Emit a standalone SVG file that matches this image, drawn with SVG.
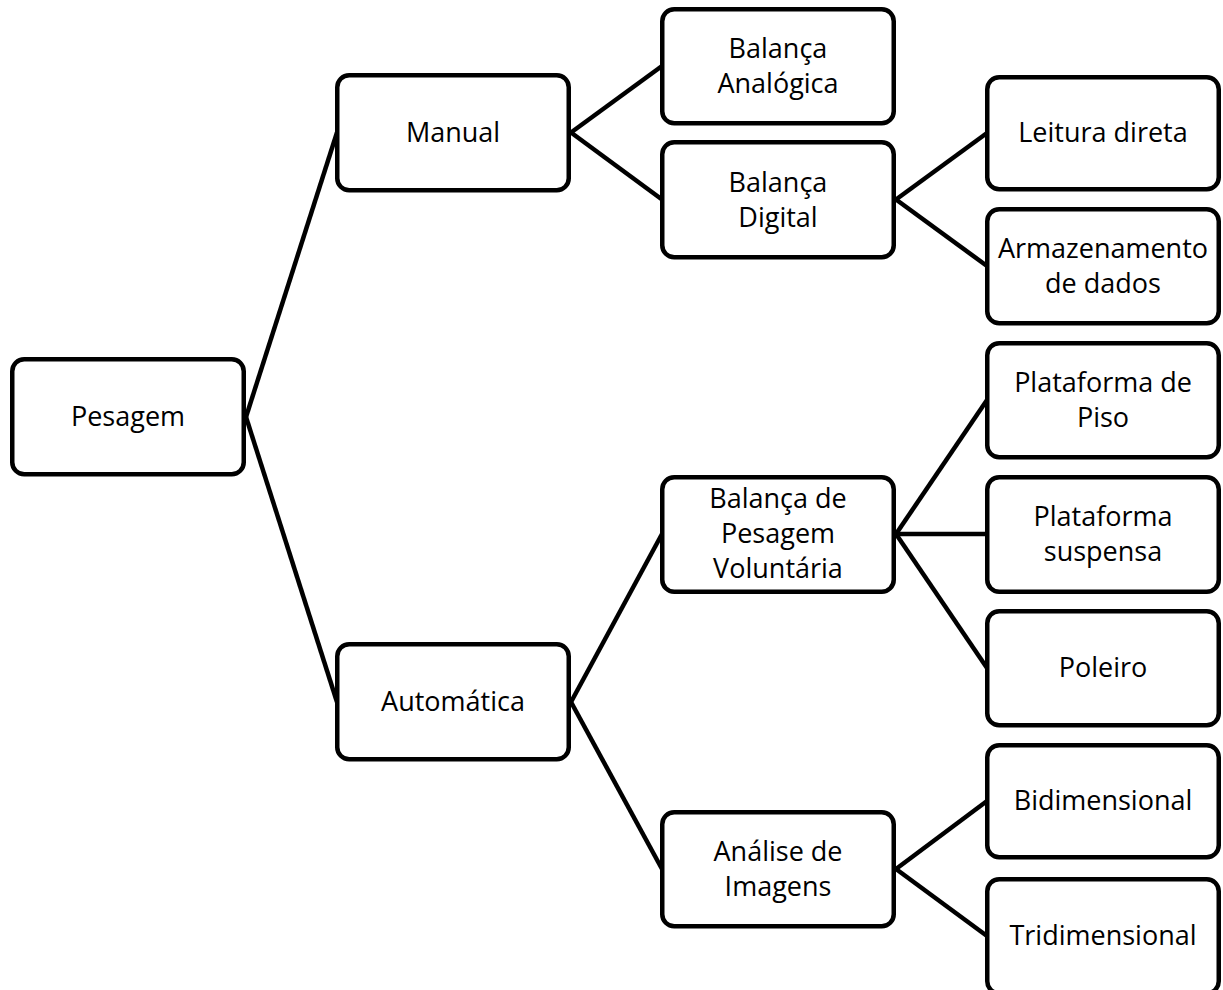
<svg xmlns="http://www.w3.org/2000/svg" width="1223" height="990" viewBox="0 0 1223 990">
<style>
.box{fill:#fff;stroke:#000;stroke-width:4.5}
.lbl{font-family:"Open Sans","Noto Sans",sans-serif;font-size:27px;fill:#000;text-anchor:middle}
.con{stroke:#000;stroke-width:4.5;fill:none;stroke-linecap:butt}
</style>
<rect width="1223" height="990" fill="#fff"/>
<g id="connectors">
<line class="con" x1="246" y1="417" x2="337" y2="132.5"/>
<line class="con" x1="246" y1="417" x2="337" y2="702"/>
<line class="con" x1="571" y1="132.5" x2="662" y2="66"/>
<line class="con" x1="571" y1="132.5" x2="662" y2="199.5"/>
<line class="con" x1="896" y1="199.5" x2="987" y2="133"/>
<line class="con" x1="896" y1="199.5" x2="987" y2="266"/>
<line class="con" x1="571" y1="702" x2="662" y2="534"/>
<line class="con" x1="571" y1="702" x2="662" y2="869"/>
<line class="con" x1="896" y1="534" x2="987" y2="400"/>
<line class="con" x1="896" y1="534" x2="987" y2="534"/>
<line class="con" x1="896" y1="534" x2="987" y2="668"/>
<line class="con" x1="896" y1="869" x2="987" y2="801"/>
<line class="con" x1="896" y1="869" x2="987" y2="936"/>
</g>
<g id="pesagem"><rect class="box" x="12.25" y="359.25" width="231.5" height="115" rx="12"/><text class="lbl" x="128" y="426">Pesagem</text></g>
<g id="manual"><rect class="box" x="337.25" y="75.25" width="231.5" height="115" rx="12"/><text class="lbl" x="453" y="141.5">Manual</text></g>
<g id="automatica"><rect class="box" x="337.25" y="644.25" width="231.5" height="115" rx="12"/><text class="lbl" x="453" y="711">Automática</text></g>
<g id="balanca-analogica"><rect class="box" x="662.25" y="9.25" width="231.5" height="114" rx="12"/><text class="lbl" x="778" y="58">Balança</text><text class="lbl" x="778" y="93">Analógica</text></g>
<g id="balanca-digital"><rect class="box" x="662.25" y="142.25" width="231.5" height="115" rx="12"/><text class="lbl" x="778" y="191.5">Balança</text><text class="lbl" x="778" y="226.5">Digital</text></g>
<g id="balanca-voluntaria"><rect class="box" x="662.25" y="477.25" width="231.5" height="114.5" rx="12"/><text class="lbl" x="778" y="508">Balança de</text><text class="lbl" x="778" y="543">Pesagem</text><text class="lbl" x="778" y="578">Voluntária</text></g>
<g id="analise-imagens"><rect class="box" x="662.25" y="812.25" width="231.5" height="114" rx="12"/><text class="lbl" x="778" y="861">Análise de</text><text class="lbl" x="778" y="896">Imagens</text></g>
<g id="leitura-direta"><rect class="box" x="987.25" y="77.25" width="231.5" height="112" rx="12"/><text class="lbl" x="1103" y="142">Leitura direta</text></g>
<g id="armazenamento"><rect class="box" x="987.25" y="209.25" width="231.5" height="114" rx="12"/><text class="lbl" x="1103" y="258">Armazenamento</text><text class="lbl" x="1103" y="293">de dados</text></g>
<g id="plataforma-piso"><rect class="box" x="987.25" y="343.25" width="231.5" height="114" rx="12"/><text class="lbl" x="1103" y="392">Plataforma de</text><text class="lbl" x="1103" y="427">Piso</text></g>
<g id="plataforma-suspensa"><rect class="box" x="987.25" y="477.25" width="231.5" height="114.5" rx="12"/><text class="lbl" x="1103" y="526">Plataforma</text><text class="lbl" x="1103" y="561">suspensa</text></g>
<g id="poleiro"><rect class="box" x="987.25" y="611.25" width="231.5" height="114" rx="12"/><text class="lbl" x="1103" y="677">Poleiro</text></g>
<g id="bidimensional"><rect class="box" x="987.25" y="745.25" width="231.5" height="112" rx="12"/><text class="lbl" x="1103" y="810">Bidimensional</text></g>
<g id="tridimensional"><rect class="box" x="987.25" y="879.25" width="231.5" height="114" rx="12"/><text class="lbl" x="1103" y="945">Tridimensional</text></g>
</svg>
